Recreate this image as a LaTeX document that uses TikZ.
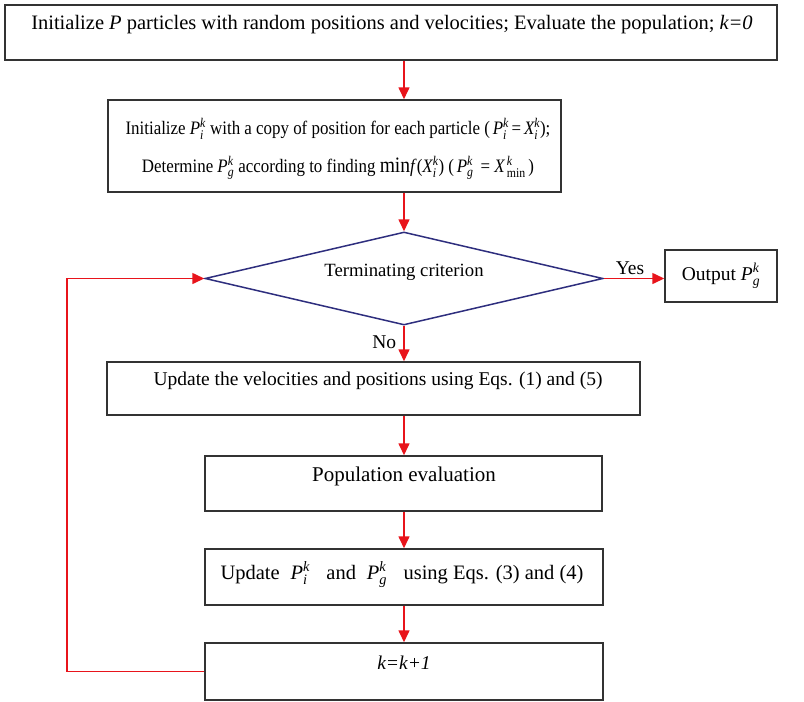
\documentclass[tikz,border=0pt]{standalone}
\usepackage{amsmath}
\usepackage{fontspec}
\setmainfont{Liberation Serif}
\usetikzlibrary{shapes.geometric,arrows.meta}
\definecolor{flowred}{HTML}{E8141B}
\definecolor{framegray}{HTML}{333333}
\definecolor{decnavy}{HTML}{2E2E7E}
% italic symbol with sub- and superscript
\newcommand\SubSup[3]{\ensuremath{\text{\itshape #1}_{\text{\itshape #2}}^{\text{\itshape #3}}}}
\begin{document}
\begin{tikzpicture}[x=1pt,y=-1pt,
  box/.style={draw=framegray,line width=1.5pt,inner sep=0pt},
  flow/.style={draw=flowred,line width=1.6pt,-{Triangle[length=12pt,width=11pt]}},
  lbl/.style={font=\fontsize{19.5}{23}\selectfont,inner sep=0pt},
  fs/.style={font=\fontsize{#1}{#1}\selectfont}]
\useasboundingbox (0,0) rectangle (804,702);

% boxes
\node[box,minimum width=772pt,minimum height=55pt] (init) at (391,32.5) {};
\node[lbl,fs=20.5] (initT) at (392,25) {Initialize \textit{P} particles with random positions and velocities; Evaluate the population; \textit{k=0}};

\node[box,minimum width=453pt,minimum height=92pt] (pbest) at (334.5,146) {};
\node[lbl,fs=19,xscale=0.89] (pbestA) at (338,129) {Initialize \SubSup{P}{i}{k} with a copy of position for each particle (\,\SubSup{P}{i}{k}\,=\,\SubSup{X}{i}{k});};
\node[lbl,fs=19,xscale=0.89] (pbestB) at (338,168) {Determine \SubSup{P}{g}{k} according to finding {\fontsize{22}{24}\selectfont min}\textit{f}(\SubSup{X}{i}{k}) (\,\SubSup{P}{g}{k}\, = \ensuremath{\text{\itshape X}_{\,\text{min}}^{\,\text{\itshape k}}}\,)};

\node[diamond,draw=decnavy,line width=1.5pt,minimum width=398pt,minimum height=93pt,inner sep=0pt] (term) at (404,278.5) {};
\node[lbl,fs=18.7] (termT) at (404,272) {Terminating criterion};

\node[box,minimum width=112pt,minimum height=52pt,lbl] (out) at (721,276) {Output \SubSup{P}{g}{k}};

\node[box,minimum width=533pt,minimum height=53pt] (upd) at (373.5,388.5) {};
\node[lbl] (updT) at (378,381) {Update the velocities and positions using Eqs. (1) and (5)};

\node[box,minimum width=397pt,minimum height=55pt] (popev) at (403.5,483.5) {};
\node[lbl,fs=21] (popevT) at (404,476) {Population evaluation};

\node[box,minimum width=398pt,minimum height=56pt] (best) at (404,577) {};
\node[lbl,fs=20.5] (bestT) at (402,575) {Update \;\SubSup{P}{i}{k}\;\; and \;\SubSup{P}{g}{k}\;\; using Eqs. (3) and (4)};

\node[box,minimum width=398pt,minimum height=57pt] (kinc) at (404,671.5) {};
\node[lbl] (kincT) at (404,663) {\textit{k=k+1}};

% connectors
\draw[flow] (term.north |- init.south) -- (term.north |- pbest.north);
\draw[flow] (term.north |- pbest.south) -- (term.north);
\draw[flow] (term.south) -- (term.south |- upd.north)
  node[lbl,pos=0.45,left=7pt] {No};
\draw[flow] (term.east) -- (term.east -| out.west)
  node[lbl,midway,above=3pt,xshift=-4pt] {Yes};
\draw[flow] (term.south |- upd.south) -- (term.south |- popev.north);
\draw[flow] (term.south |- popev.south) -- (term.south |- best.north);
\draw[flow] (term.south |- best.south) -- (term.south |- kinc.north);
\draw[flow] (kinc.west) -- ++(-137,0) |- (term.west);
\end{tikzpicture}
\end{document}
